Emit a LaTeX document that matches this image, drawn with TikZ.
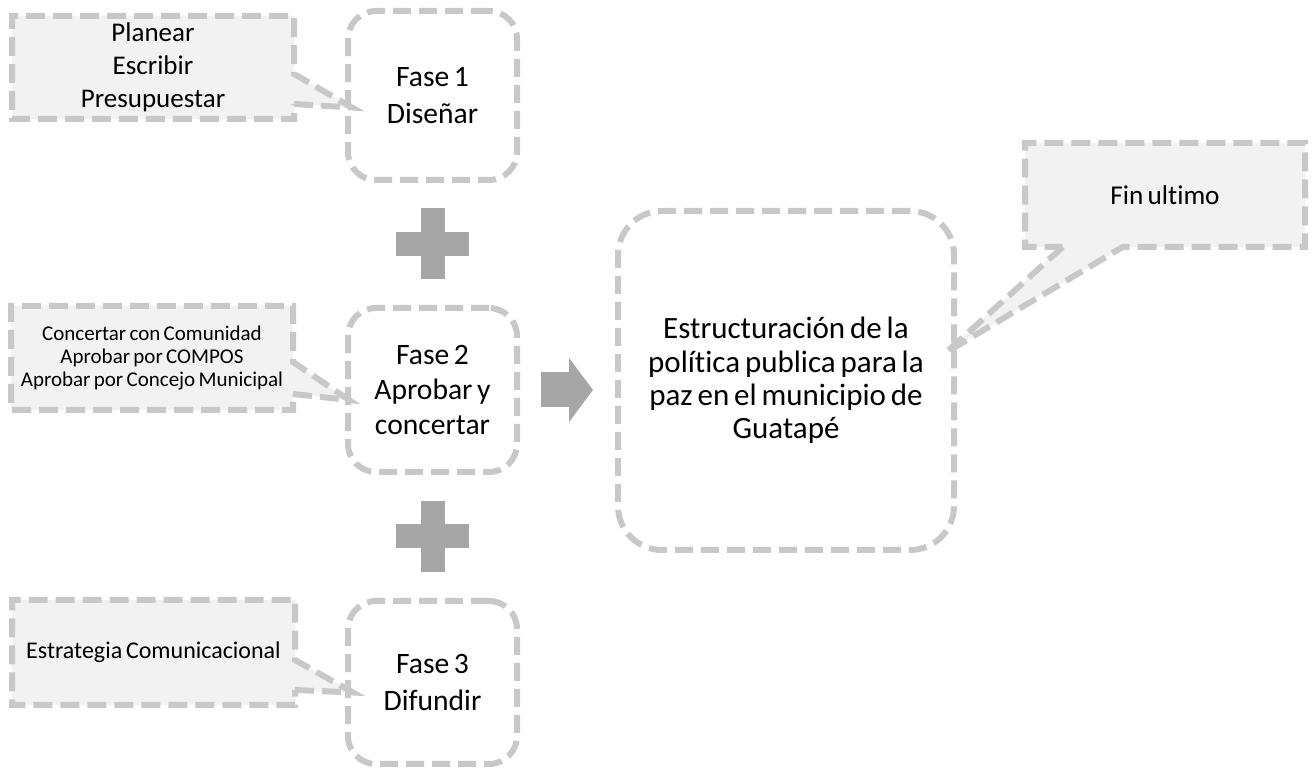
\documentclass[tikz,border=0pt]{standalone}
\usepackage{fontspec}
\setmainfont{Carlito}[Ligatures=NoCommon, WordSpace=0.7]
\usetikzlibrary{shapes.callouts,arrows.meta}
\definecolor{dashgray}{RGB}{200,200,200}
\definecolor{notefill}{RGB}{242,242,242}
\definecolor{plusgray}{RGB}{166,166,166}

\begin{document}
\begin{tikzpicture}[x=0.5pt,y=-0.5pt,
  fase/.style={draw=dashgray, line width=3pt, dash pattern=on 9pt off 4pt,
    rounded corners=14pt, minimum width=84.5pt, align=center,
    font=\fontsize{14.8}{18.3}\selectfont},
  nota/.style={rectangle callout, draw=dashgray, fill=notefill, line width=3pt,
    dash pattern=on 9.5pt off 4pt, align=center, inner sep=0pt},
  plus/.style={fill=plusgray}]
\useasboundingbox (0,0) rectangle (1313,769);

% fases
\node[fase, minimum height=84.5pt] (f1) at (432.5,95.5) {Fase 1\\Diseñar};
\node[fase, minimum height=82pt, font=\fontsize{14.8}{17.5}\selectfont] (f2) at (432.5,390) {Fase 2\\Aprobar y\\concertar};
\node[fase, minimum height=81.5pt] (f3) at (432.5,682.5) {Fase 3\\Difundir};
\node[fase, minimum width=168pt, minimum height=169.5pt, rounded corners=22pt,
  font=\fontsize{15.5}{16.6}\selectfont] (big) at (786,380.5)
  {Estructuración de la\\política publica para la\\paz en el municipio de\\Guatapé};

% notas
\node[nota, minimum width=141pt, minimum height=51.5pt, callout pointer width=15pt,
  callout absolute pointer={([xshift=3.5pt,yshift=-6pt]f1.west)},
  font=\fontsize{13.5}{16.5}\selectfont] (c1) at (153,67.5)
  {Planear\\Escribir\\Presupuestar};
\node[nota, minimum width=141pt, minimum height=52pt, callout pointer width=16pt,
  callout absolute pointer={([xshift=2pt,yshift=-5pt]f2.west)},
  font=\fontsize{10.5}{11.7}\selectfont] (c2) at (152,358)
  {Concertar con Comunidad\\Aprobar por COMPOS\\Aprobar por Concejo Municipal};
\node[nota, minimum width=141.5pt, minimum height=52.5pt, callout pointer width=15pt,
  callout absolute pointer={([xshift=4pt,yshift=-5pt]f3.west)},
  font=\fontsize{12}{14}\selectfont] (c3) at (153.5,652.5)
  {Estrategia Comunicacional};
\node[nota, minimum width=140pt, minimum height=52pt, callout pointer width=30pt,
  callout absolute pointer={([xshift=-5.5pt,yshift=14pt]big.east)},
  font=\fontsize{13.6}{16}\selectfont] (fin) at (1165,195)
  {Fin ultimo};

% signos mas
\path (f1) -- coordinate[midway] (p1) (f2);
\path (f2) -- coordinate[midway] (p2) (f3);
\fill[plus] ([xshift=-18.25pt,yshift=-6pt]p1) rectangle ([xshift=18.25pt,yshift=6pt]p1);
\fill[plus] ([xshift=-6pt,yshift=-17.75pt]p1) rectangle ([xshift=6pt,yshift=17.75pt]p1);
\fill[plus] ([xshift=-18.25pt,yshift=-6pt]p2) rectangle ([xshift=18.25pt,yshift=6pt]p2);
\fill[plus] ([xshift=-6pt,yshift=-17.75pt]p2) rectangle ([xshift=6pt,yshift=17.75pt]p2);

% flecha
\draw[plusgray, line width=17.5pt, -{Triangle[length=12pt,width=31.5pt]},
  shorten <=10.5pt, shorten >=11pt] (f2.east) -- (f2.east -| big.west);
\end{tikzpicture}
\end{document}
